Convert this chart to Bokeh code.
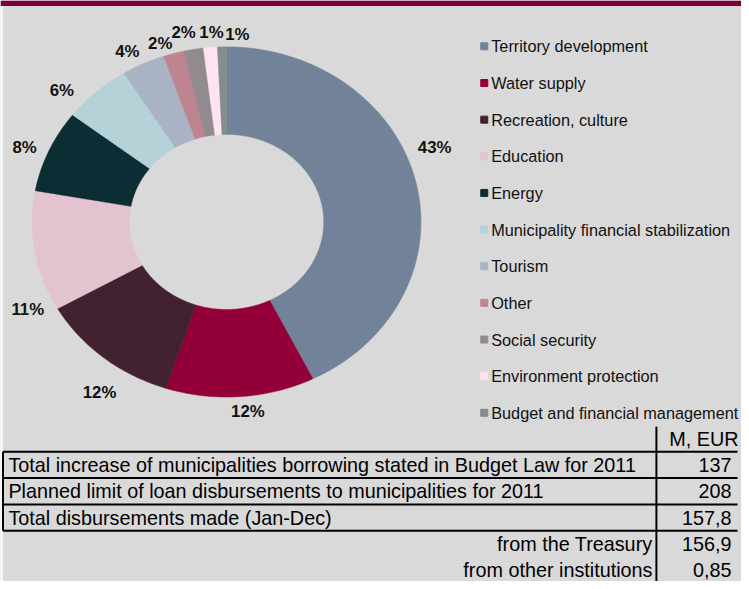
import numpy as np
from bokeh.plotting import figure
from bokeh.models import Range1d
from bokeh.embed import file_html
from bokeh.resources import INLINE
from bokeh.core.properties import value

# ---------------- data ----------------
categories = [
    "Territory development",
    "Water supply",
    "Recreation, culture",
    "Education",
    "Energy",
    "Municipality financial stabilization",
    "Tourism",
    "Other",
    "Social security",
    "Environment protection",
    "Budget and financial management",
]
shares = [42.7, 12.4, 11.7, 11.1, 7.6, 5.7, 3.6, 1.7, 1.65, 1.15, 0.75]

table_unit = "M, EUR"
table_labels = [
    "Total increase of municipalities borrowing stated in Budget Law for 2011",
    "Planned limit of loan disbursements to municipalities for 2011",
    "Total disbursements made (Jan-Dec)",
    "from the Treasury",
    "from other institutions",
]
table_values = ["137", "208", "157,8", "156,9", "0,85"]

# ---------------- styles ----------------
colors = ["#728299", "#930039", "#422131", "#e3c3cf", "#0b2d33", "#b4d2d8",
          "#a9b3c3", "#be8490", "#938a8f", "#ffe3f1", "#848d8b"]
BG = "#d9d9d9"
FONT = value("Liberation Sans")
# manual nudges of the percentage labels (pixels, relative to their computed anchor)
label_nudge = [(-4, -30), (6, -6), (11, 19), (16, 55), (-3, 5), (-19, 14),
               (-6, 7), (-7, 10), (-6, 4), (3, 6), (16, 9)]

W, H = 741, 581
p = figure(width=W, height=H, x_range=Range1d(0, 749), y_range=Range1d(589, 0),
           output_backend="svg", toolbar_location=None, min_border=0,
           x_axis_location=None, y_axis_location=None)
p.grid.visible = False
p.outline_line_color = None
p.background_fill_color = BG
p.border_fill_color = BG

# top band and left white strip
p.quad(left=0, right=749, top=0, bottom=5.5, fill_color="#7a0033", line_color=None)
p.quad(left=0, right=2.2, top=5.5, bottom=589, fill_color="white", line_color=None)

# ---------------- donut ----------------
CX, CY, RX, RY, INNER = 228.5, 224.5, 196.5, 177.5, 0.5
total = float(sum(shares))
cum = np.concatenate([[0.0], np.cumsum(shares)]) / total * 2 * np.pi
xs, ys = [], []
for a0, a1 in zip(cum[:-1], cum[1:]):
    t = np.linspace(a0, a1, max(int((a1 - a0) * 80) + 2, 4))
    ox = CX + RX * np.sin(t)
    oy = CY - RY * np.cos(t)
    ix = CX + INNER * RX * np.sin(t[::-1])
    iy = CY - INNER * RY * np.cos(t[::-1])
    xs.append(list(np.r_[ox, ix]))
    ys.append(list(np.r_[oy, iy]))
p.patches(xs, ys, fill_color=colors, line_color=colors, line_width=0.5)

# percentage labels
mids = (cum[:-1] + cum[1:]) / 2
K = 1.12
lx = [CX + K * RX * np.sin(m) + d[0] for m, d in zip(mids, label_nudge)]
ly = [CY - K * RY * np.cos(m) + d[1] for m, d in zip(mids, label_nudge)]
pct = [f"{round(s / total * 100)}%" for s in shares]
p.text(x=lx, y=ly, text=pct, text_font=FONT, text_font_size="16.8px",
       text_font_style="bold", text_align="center", text_baseline="middle",
       text_color="#111111")

# ---------------- legend ----------------
LEG_X, LEG_Y0, LEG_DY = 489, 46.5, 37.15
leg_y = [LEG_Y0 + i * LEG_DY for i in range(len(categories))]
p.scatter(x=[LEG_X] * len(categories), y=leg_y, marker="square", size=7,
          fill_color=colors, line_color=colors)
p.text(x=[LEG_X + 7] * len(categories), y=leg_y, text=categories, text_font=FONT,
       text_font_size="16.3px", text_align="left", text_baseline="middle",
       text_color="#111111")

# ---------------- table ----------------
HEAD_TOP, ROW_TOP, PITCH = 432, 457.5, 26.7
DIV_X, VAL_X, SUB_X, LEFT_X = 663, 739, 659, 2.5
TFS = "19.8px"
row_y = [ROW_TOP + PITCH * (i + 0.5) for i in range(len(table_labels))]
n_boxed = 3

# divider and box lines
p.segment(x0=[DIV_X], y0=[HEAD_TOP], x1=[DIV_X], y1=[589], line_color="black", line_width=2)
hl = [ROW_TOP + PITCH * j for j in range(n_boxed + 1)]
p.segment(x0=[LEFT_X] * len(hl), y0=hl, x1=[745] * len(hl), y1=hl,
          line_color="black", line_width=2)
p.segment(x0=[LEFT_X], y0=[hl[0]], x1=[LEFT_X], y1=[hl[-1]], line_color="black", line_width=2)

p.text(x=[746], y=[(HEAD_TOP + ROW_TOP) / 2], text=[table_unit], text_font=FONT,
       text_font_size=TFS, text_align="right", text_baseline="middle", text_color="black")
p.text(x=[8] * n_boxed, y=row_y[:n_boxed], text=table_labels[:n_boxed],
       text_font=FONT, text_font_size=TFS, text_align="left",
       text_baseline="middle", text_color="black")
p.text(x=[SUB_X] * (len(table_labels) - n_boxed), y=row_y[n_boxed:],
       text=table_labels[n_boxed:], text_font=FONT, text_font_size=TFS,
       text_align="right", text_baseline="middle", text_color="black")
p.text(x=[VAL_X] * len(table_values), y=row_y, text=table_values, text_font=FONT,
       text_font_size=TFS, text_align="right", text_baseline="middle",
       text_color="black")

open("out.html", "w").write(file_html(p, INLINE))
